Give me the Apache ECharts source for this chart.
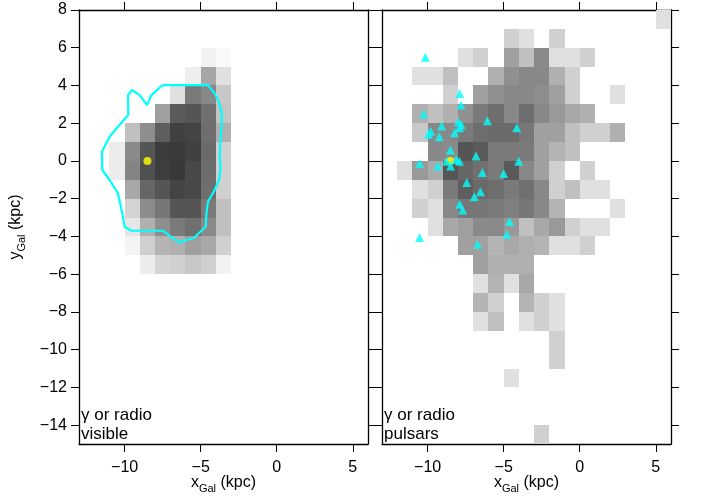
<!DOCTYPE html>
<html>
<head>
<meta charset="utf-8">
<script src="https://cdn.jsdelivr.net/npm/echarts@6/dist/echarts.min.js"></script>
<style>
  html, body { margin: 0; background: #fff; }
  #chart { width: 702px; height: 497px; }
</style>
</head>
<body>
<div id="chart"></div>
<script>
// tick labels
const xTicks = [-10, -5, 0, 5]
const yTicks = [-14, -12, -10, -8, -6, -4, -2, 0, 2, 4, 6, 8]

// darkness of each 1x1 kpc cell (255 - grey level)
// row = [y lower edge, x of first cell, values going right]
const visibleRows = [
  [5, -5, [13, 5]],
  [4, -6, [17, 89, 31]],
  [3, -7, [31, 133, 119, 55]],
  [2, -8, [95, 165, 170, 143, 59]],
  [1, -10, [63, 113, 161, 191, 187, 145, 79]],
  [0, -11, [19, 117, 170, 195, 197, 191, 149, 47]],
  [-1, -11, [19, 123, 175, 193, 199, 183, 147, 47]],
  [-2, -10, [87, 153, 170, 187, 183, 145, 47]],
  [-3, -10, [43, 115, 136, 170, 170, 133, 63]],
  [-4, -10, [25, 79, 113, 133, 143, 117, 63]],
  [-5, -10, [11, 48, 75, 79, 95, 87, 47]],
  [-6, -9, [19, 43, 47, 55, 47, 13]]
]

const pulsarRows = [
  [7, 5, [31]],
  [6, -5, [47, 31, 0, 47]],
  [5, -8, [31, 47, 0, 95, 63, 117, 31, 31, 47]],
  [4, -11, [31, 31, 63, 0, 0, 79, 111, 119, 119, 79, 47]],
  [3, -9, [47, 0, 95, 111, 119, 119, 113, 95, 47, 0, 0, 31]],
  [2, -11, [79, 63, 79, 111, 133, 145, 119, 145, 119, 102, 87, 79]],
  [1, -11, [55, 119, 119, 133, 145, 149, 149, 136, 95, 95, 63, 47, 47, 79]],
  [0, -10, [119, 117, 170, 165, 133, 133, 133, 95, 75, 63]],
  [-1, -12, [31, 102, 85, 170, 153, 143, 133, 165, 119, 95, 47, 0, 47]],
  [-2, -11, [31, 47, 133, 161, 149, 145, 133, 143, 119, 47, 63, 31, 31]],
  [-3, -11, [47, 31, 119, 136, 136, 133, 127, 136, 119, 75, 0, 0, 0, 31]],
  [-4, -10, [31, 87, 95, 117, 117, 102, 63, 87, 102, 47, 31, 31]],
  [-5, -8, [95, 95, 75, 87, 79, 75, 31, 31, 47]],
  [-6, -7, [95, 79, 79, 79]],
  [-7, -7, [31, 75, 31, 87]],
  [-8, -7, [75, 47, 0, 75, 47, 31]],
  [-9, -7, [31, 63, 0, 31, 47, 31]],
  [-10, -2, [47]],
  [-11, -2, [47]],
  [-12, -5, [31]],
  [-15, -3, [47]]
]

// cyan contour of the visible region
const contour = [
  [-7.48, 4.02], [-4.52, 4.02], [-4.08, 3.58], [-3.80, 3.14], [-3.60, 2.43],
  [-3.66, 1.46], [-3.75, 0.40], [-3.70, -0.48], [-3.80, -1.01], [-4.08, -1.54],
  [-4.52, -2.16], [-4.62, -2.78], [-4.67, -3.49], [-5.44, -4.07], [-6.43, -4.32],
  [-7.48, -3.70], [-9.56, -3.70], [-10.0, -3.49], [-10.15, -2.78], [-10.44, -1.72],
  [-10.70, -1.37], [-10.99, -1.01], [-11.47, -0.48], [-11.49, 0.49], [-10.99, 1.28],
  [-10.44, 1.81], [-9.76, 2.43], [-9.78, 3.49], [-9.52, 3.76], [-9.01, 3.49],
  [-8.53, 2.96], [-8.24, 3.49], [-7.59, 3.97], [-7.48, 4.02]
]

const sun = [[-8.5, 0]]

// gamma-ray pulsars
const pulsars = [
  [-10.15, 5.49], [-7.89, 3.58], [-7.80, 2.96], [-10.26, 2.49], [-6.07, 2.13],
  [-7.98, 2.08], [-7.78, 1.90], [-7.91, 1.76], [-9.08, 1.85], [-4.14, 1.76],
  [-9.80, 1.58], [-9.95, 1.41], [-8.22, 1.49], [-9.23, 1.28], [-8.51, 0.58],
  [-6.82, 0.26], [-8.13, 0.08], [-7.91, -0.01], [-8.77, -0.01], [-10.53, -0.13],
  [-9.34, -0.27], [-8.49, -0.27], [-4.01, -0.02], [-6.40, -0.61], [-5.00, -0.66],
  [-7.43, -1.14], [-6.53, -1.63], [-6.93, -1.90], [-7.89, -2.29], [-7.70, -2.60],
  [-4.61, -3.21], [-4.79, -3.88], [-10.53, -4.06], [-6.71, -4.42]
]

function toCells(rows) {
  const cells = []
  rows.forEach(function (r) {
    r[2].forEach(function (v, i) {
      if (v > 0) cells.push([r[1] + i, r[0], v])
    })
  })
  return cells
}

const font = 'Liberation Sans, Arial, sans-serif'
const minus = function (v) { return String(v).replace('-', '\u2212') }
const axisName = function (c) {
  return '{m|' + c + '}{s|Gal}{m| (kpc)}'
}
const nameRich = {
  m: { fontSize: 16, fontFamily: font, color: '#000', lineHeight: 22, verticalAlign: 'middle' },
  s: { fontSize: 11, fontFamily: font, color: '#000', lineHeight: 22, verticalAlign: 'bottom' }
}

function xAxisOf(grid, bottom) {
  return {
    type: 'value', gridIndex: grid, position: bottom ? 'bottom' : 'top',
    min: -13, max: 6,
    axisLine: { show: true, onZero: false, lineStyle: { color: '#000', width: 1.3 } },
    axisTick: { show: true, length: 8, customValues: xTicks, lineStyle: { color: '#000' } },
    axisLabel: {
      show: bottom, customValues: xTicks, formatter: minus, margin: 16,
      fontSize: 16, fontFamily: font, color: '#000'
    },
    splitLine: { show: false },
    name: bottom ? axisName('x') : '', nameLocation: 'middle', nameGap: 28,
    nameMoveOverlap: false,
    nameTextStyle: { rich: nameRich }
  }
}

function yAxisOf(grid, left, labels, tickLen) {
  return {
    type: 'value', gridIndex: grid, position: left ? 'left' : 'right',
    min: -15, max: 8,
    axisLine: { show: true, onZero: false, lineStyle: { color: '#000', width: 1.3 } },
    axisTick: { show: true, length: tickLen, customValues: yTicks, lineStyle: { color: '#000' } },
    axisLabel: {
      show: labels, customValues: yTicks, formatter: minus, margin: 12,
      fontSize: 16, fontFamily: font, color: '#000'
    },
    splitLine: { show: false },
    name: labels ? axisName('y') : '', nameLocation: 'middle', nameGap: 52, nameRotate: 90,
    nameMoveOverlap: false,
    nameTextStyle: { rich: nameRich }
  }
}

function cellSeries(data, xi, yi) {
  return {
    type: 'custom', xAxisIndex: xi, yAxisIndex: yi, data: data,
    encode: { x: 0, y: 1 },
    renderItem: function (params, api) {
      const x = api.value(0), y = api.value(1)
      const a = api.coord([x, y + 1])
      const b = api.coord([x + 1, y])
      const x0 = Math.round(a[0]), y0 = Math.round(a[1])
      const x1 = Math.round(b[0]), y1 = Math.round(b[1])
      return {
        type: 'rect',
        shape: { x: x0, y: y0, width: x1 - x0, height: y1 - y0 },
        style: { fill: api.visual('color') }
      }
    }
  }
}

const chart = echarts.init(document.getElementById('chart'))
chart.setOption({
  backgroundColor: '#fff',
  animation: false,
  grid: [
    { left: 79, top: 10, width: 289, height: 434, outerBoundsMode: 'none', containLabel: false },
    { left: 382, top: 10, width: 289, height: 434, outerBoundsMode: 'none', containLabel: false }
  ],
  xAxis: [xAxisOf(0, true), xAxisOf(0, false), xAxisOf(1, true), xAxisOf(1, false)],
  yAxis: [yAxisOf(0, true, true, 8), yAxisOf(0, false, false, 7), yAxisOf(1, true, false, 7), yAxisOf(1, false, false, 8)],
  visualMap: {
    show: false, type: 'continuous', min: 0, max: 255, dimension: 2,
    seriesIndex: [0, 1], inRange: { color: ['#ffffff', '#000000'] }
  },
  graphic: [
    { type: 'text', left: 81, top: 406, style: { text: '\u03b3 or radio\nvisible', font: '17px ' + font, fill: '#000', lineHeight: 19 } },
    { type: 'text', left: 384, top: 406, style: { text: '\u03b3 or radio\npulsars', font: '17px ' + font, fill: '#000', lineHeight: 19 } }
  ],
  series: [
    cellSeries(toCells(visibleRows), 0, 0),
    cellSeries(toCells(pulsarRows), 2, 2),
    {
      type: 'line', xAxisIndex: 0, yAxisIndex: 0, data: contour,
      showSymbol: false, smooth: false,
      lineStyle: { color: '#00ffff', width: 2.2 }
    },
    {
      type: 'scatter', xAxisIndex: 0, yAxisIndex: 0, data: sun,
      symbol: 'circle', symbolSize: 8, itemStyle: { color: '#ffff00' }
    },
    {
      type: 'scatter', xAxisIndex: 2, yAxisIndex: 2, data: sun,
      symbol: 'circle', symbolSize: 8, itemStyle: { color: '#ffff00' }
    },
    {
      type: 'scatter', xAxisIndex: 2, yAxisIndex: 2, data: pulsars,
      symbol: 'triangle', symbolSize: 9, itemStyle: { color: '#00ffff' }
    }
  ]
})
</script>
</body>
</html>
